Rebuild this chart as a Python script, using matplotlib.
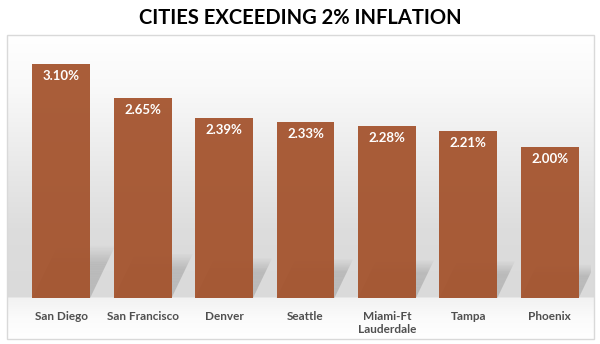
import numpy as np
import matplotlib.pyplot as plt
from matplotlib.patches import Polygon, Rectangle

cities = ["San Diego", "San Francisco", "Denver", "Seattle",
          "Miami-Ft\nLauderdale", "Tampa", "Phoenix"]
inflation = [3.10, 2.65, 2.39, 2.33, 2.28, 2.21, 2.00]
value_labels = ["3.10%", "2.65%", "2.39%", "2.33%", "2.28%", "2.21%", "2.00%"]

W, H = 600, 344
fig = plt.figure(figsize=(W / 100, H / 100), dpi=100)
fig.patch.set_facecolor("white")

# background panel: wall gradient down to the floor line, then floor fading to white
bg = fig.add_axes([0, 0, 1, 1], zorder=0)
rows = np.arange(35, 339)
shade = np.interp(rows, [35, 90, 170, 230, 296, 298, 318, 338],
                  [1.0, 0.975, 0.91, 0.865, 0.855, 0.95, 0.985, 1.0])
img = np.repeat(shade[:, None, None], 3, axis=2).repeat(4, axis=1)
bg.imshow(img, extent=[7, 594, 339, 35], aspect="auto", interpolation="bilinear")
bg.add_patch(Rectangle((7, 35), 587, 304, fill=False, ec="#d9d9d9", lw=1))
bg.set_xlim(0, W)
bg.set_ylim(H, 0)
bg.axis("off")

# plot area
left, right = 20.5 / W, 590.5 / W
base, top = 298 / H, 41.5 / H
ax = fig.add_axes([left, 1 - base, right - left, base - top], zorder=1)
ax.patch.set_alpha(0)
x = np.arange(len(cities))

width = 0.71
# soft floor shadows, built from thin strips that fade near the top
n_strips = 30
for xi, v in zip(x, inflation):
    hs = 0.22 * v
    dx = 0.445 * hs
    for k in range(n_strips):
        t = k / n_strips
        y0 = hs * t
        y1 = hs * (k + 1) / n_strips
        a = 0.24 * min(1.0, (1 - t) / 0.35)
        ax.add_patch(Polygon([(xi - width / 2 + dx * y0 / hs, y0),
                              (xi + width / 2 + dx * y0 / hs, y0),
                              (xi + width / 2 + dx * y1 / hs, y1),
                              (xi - width / 2 + dx * y1 / hs, y1)],
                             closed=True, fc="#555555", ec="none",
                             alpha=a, zorder=1))

ax.bar(x, inflation, width=width, color="#A4532D", alpha=0.94, zorder=2)

for xi, v, lab in zip(x, inflation, value_labels):
    ax.text(xi, v - 0.16, lab, ha="center", va="center", color="white",
            fontsize=9.5, fontweight="bold", family="Lato", zorder=3)

ax.set_xlim(-0.5, len(cities) - 0.5)
ax.set_ylim(0, 3.4)
ax.set_xticks(x)
ax.set_xticklabels(cities, fontsize=8.5, fontweight="bold", color="#4f4f4f",
                   family="Lato", linespacing=1.3, va="top")
ax.tick_params(axis="x", length=0, pad=9)
ax.set_yticks([])
for s in ax.spines.values():
    s.set_visible(False)

fig.text(0.5, 1 - 17.5 / H, "CITIES EXCEEDING 2% INFLATION", ha="center",
         va="center", fontsize=14.5, fontweight="bold", family="Lato", color="black")

fig.savefig("out.png", dpi=100)
